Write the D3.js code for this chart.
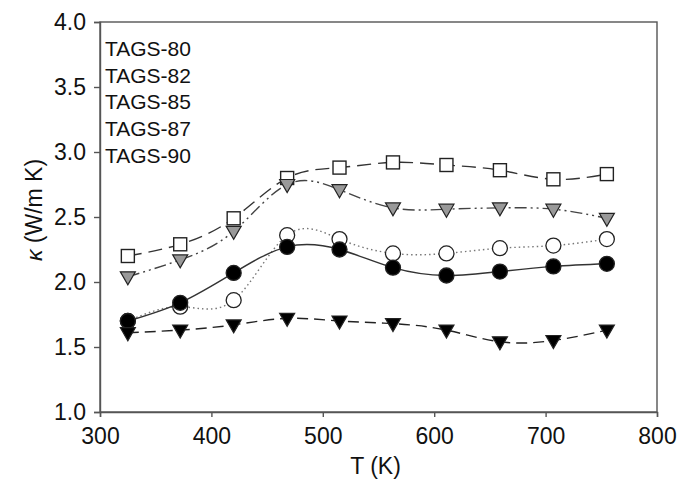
<html>
<head>
<style>
body { margin: 0; background: #fff; }
text { font-family: "Liberation Sans", Arial, sans-serif; fill: #111; }
.axis path, .axis line { stroke: #555; stroke-width: 1.4px; }
.axis text { font-size: 23px; fill: #111; font-family: "Liberation Sans", Arial, sans-serif; }
.frame { fill: none; stroke: #555; stroke-width: 1.4px; }
</style>
</head>
<body>
<div class="chart"></div>
<script src="https://d3js.org/d3.v7.min.js"></script>
<script>
var temps = [325, 372, 420, 468, 515, 563, 611, 659, 707, 755];
var tags80 = [2.20, 2.29, 2.49, 2.80, 2.88, 2.92, 2.90, 2.86, 2.79, 2.83];
var tags82 = [2.04, 2.17, 2.39, 2.75, 2.71, 2.57, 2.56, 2.57, 2.56, 2.49];
var tags85 = [1.70, 1.84, 2.07, 2.27, 2.25, 2.11, 2.05, 2.08, 2.12, 2.14];
var tags87 = [1.70, 1.81, 1.86, 2.36, 2.33, 2.22, 2.22, 2.26, 2.28, 2.33];
var tags90 = [1.61, 1.63, 1.67, 1.72, 1.70, 1.68, 1.63, 1.54, 1.55, 1.63];
var legendLabels = ["TAGS-80", "TAGS-82", "TAGS-85", "TAGS-87", "TAGS-90"];
var xTicks = [300, 400, 500, 600, 700, 800];
var yTicks = [1.0, 1.5, 2.0, 2.5, 3.0, 3.5, 4.0];

var margin = {top: 22, right: 21, bottom: 68, left: 100},
    width = 678 - margin.left - margin.right,
    height = 480 - margin.top - margin.bottom;

var svg = d3.select(".chart").append("svg")
    .attr("width", 678)
    .attr("height", 480)
  .append("g")
    .attr("transform", "translate(" + margin.left + "," + margin.top + ")");

var x = d3.scaleLinear().domain([300, 800]).range([0, width]);
var y = d3.scaleLinear().domain([1.0, 4.0]).range([height, 0]);

svg.append("rect").attr("class", "frame")
    .attr("width", width).attr("height", height);

svg.append("g")
    .attr("class", "x axis")
    .attr("transform", "translate(0," + height + ")")
    .call(d3.axisBottom(x).tickValues(xTicks).tickSize(5).tickPadding(11).tickFormat(d3.format("d")));

svg.append("g")
    .attr("class", "y axis")
    .call(d3.axisLeft(y).tickValues(yTicks).tickSize(6).tickPadding(8).tickFormat(d3.format(".1f")));

// axis titles
svg.append("text")
    .attr("x", width / 2 - 3)
    .attr("y", height + 62)
    .attr("text-anchor", "middle")
    .style("font-size", "23px")
    .text("T (K)");

var yTitle = svg.append("text")
    .attr("transform", "translate(-58," + (height / 2 - 7) + ") rotate(-90)")
    .attr("text-anchor", "middle")
    .style("font-size", "23px");
yTitle.append("tspan").style("font-style", "italic").text("\u03ba");
yTitle.append("tspan").text(" (W/m K)");

// legend (text only, as in the source figure)
svg.selectAll(".legend")
    .data(legendLabels)
  .enter().append("text")
    .attr("class", "legend")
    .attr("x", 5)
    .attr("y", function(d, i){ return 34 + i * 26.7; })
    .style("font-size", "21px")
    .text(function(d){ return d; });

var series = [
  {values: tags80, marker: "square", fill: "#fff", dash: "14,7", color: "#333"},
  {values: tags82, marker: "tri", fill: "#999", dash: "12,4,2,4,2,4", color: "#444"},
  {values: tags87, marker: "circle", fill: "#fff", dash: "1.5,3", color: "#777"},
  {values: tags85, marker: "circle", fill: "#000", dash: null, color: "#333"},
  {values: tags90, marker: "tri", fill: "#000", dash: "11,6", color: "#222"}
];

var line = d3.line()
    .curve(d3.curveNatural)
    .x(function(d){ return x(d.t); })
    .y(function(d){ return y(d.k); });

series.forEach(function(s){
  var pts = temps.map(function(t, i){ return {t: t, k: s.values[i]}; });
  svg.append("path")
      .datum(pts)
      .attr("fill", "none")
      .attr("stroke", s.color)
      .attr("stroke-width", 1.4)
      .attr("stroke-dasharray", s.dash)
      .attr("d", line);
});

series.forEach(function(s){
  var pts = temps.map(function(t, i){ return {t: t, k: s.values[i]}; });
  var g = svg.append("g");
  if (s.marker === "circle") {
    g.selectAll("circle").data(pts).enter().append("circle")
        .attr("cx", function(d){ return x(d.t); })
        .attr("cy", function(d){ return y(d.k); })
        .attr("r", 7.5)
        .attr("fill", s.fill)
        .attr("stroke", "#222")
        .attr("stroke-width", 1.3);
  } else if (s.marker === "square") {
    g.selectAll("rect").data(pts).enter().append("rect")
        .attr("x", function(d){ return x(d.t) - 6.5; })
        .attr("y", function(d){ return y(d.k) - 6.5; })
        .attr("width", 13)
        .attr("height", 13)
        .attr("fill", s.fill)
        .attr("stroke", "#222")
        .attr("stroke-width", 1.4);
  } else {
    g.selectAll("path").data(pts).enter().append("path")
        .attr("transform", function(d){ return "translate(" + x(d.t) + "," + y(d.k) + ")"; })
        .attr("d", "M-7.5,-5L7.5,-5L0,8Z")
        .attr("fill", s.fill)
        .attr("stroke", "#222")
        .attr("stroke-width", 1.2);
  }
});
</script>
</body>
</html>
